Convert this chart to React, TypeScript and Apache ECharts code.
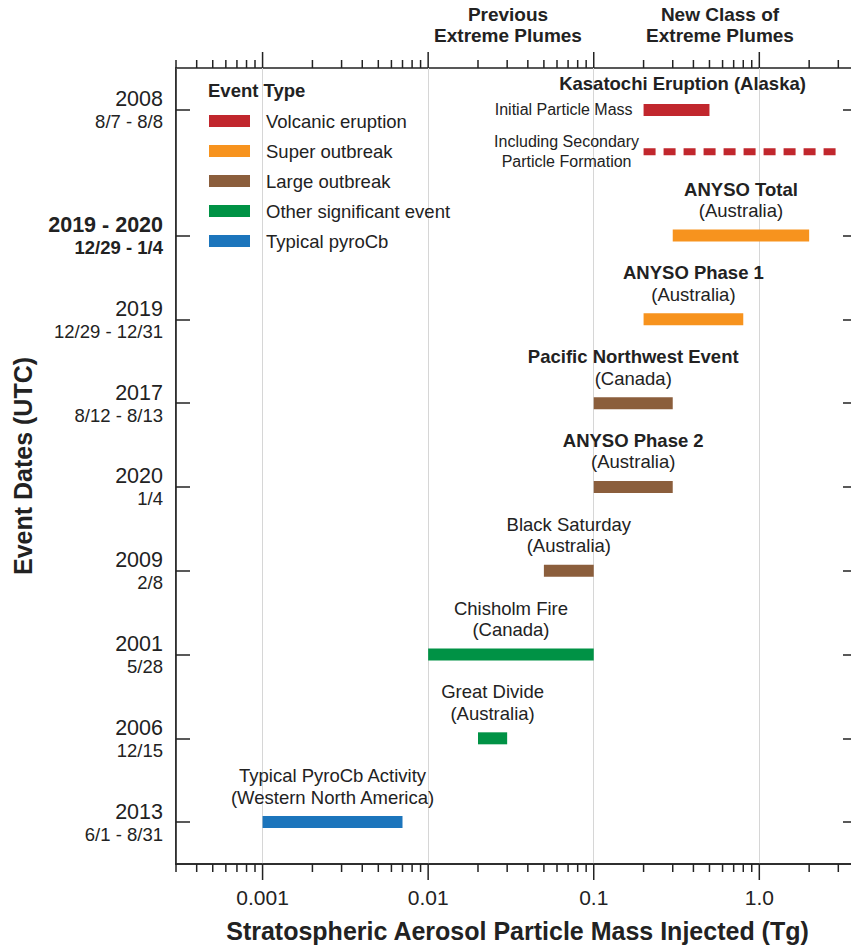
import React, { useEffect, useRef } from 'react';
import * as echarts from 'echarts';

const FONT = '"Liberation Sans", Arial, Helvetica, sans-serif';
const INK = '#222';

// Event types (legend) and their colours
const EVENT_TYPES = ['Volcanic eruption', 'Super outbreak', 'Large outbreak', 'Other significant event', 'Typical pyroCb'];
const TYPE_COLORS = ['#c1272d', '#f7931e', '#8b5e3c', '#009245', '#1c75bc'];

// Events, top to bottom
const EVENT_NAMES = ['Kasatochi Eruption (Alaska)', 'ANYSO Total', 'ANYSO Phase 1', 'Pacific Northwest Event', 'ANYSO Phase 2', 'Black Saturday', 'Chisholm Fire', 'Great Divide', 'Typical PyroCb Activity'];
const EVENT_PLACES = ['', '(Australia)', '(Australia)', '(Canada)', '(Australia)', '(Australia)', '(Canada)', '(Australia)', '(Western North America)'];
const EVENT_YEARS = ['2008', '2019 - 2020', '2019', '2017', '2020', '2009', '2001', '2006', '2013'];
const EVENT_DATES = ['8/7 - 8/8', '12/29 - 1/4', '12/29 - 12/31', '8/12 - 8/13', '1/4', '2/8', '5/28', '12/15', '6/1 - 8/31'];
const EVENT_TYPE_OF = [0, 1, 1, 2, 2, 2, 3, 3, 4];
const EVENT_LOW = [0.2, 0.3, 0.2, 0.1, 0.1, 0.05, 0.01, 0.02, 0.001];
const EVENT_HIGH = [0.5, 2.0, 0.8, 0.3, 0.3, 0.1, 0.1, 0.03, 0.007];
const EVENT_ROW = [18, 15, 13, 11, 9, 7, 5, 3, 1];
const NAME_BOLD = [true, true, true, true, true, false, false, false, false];
const DATE_BOLD = [false, true, false, false, false, false, false, false, false];

// Kasatochi including secondary particle formation (dashed)
const KASATOCHI_SECONDARY = [0.2, 3.0];
const KASATOCHI_SECONDARY_ROW = 17;
const KASATOCHI_INITIAL_LABEL = 'Initial Particle Mass';
const KASATOCHI_SECONDARY_LABEL = 'Including Secondary\nParticle Formation';

// Axes
const N_ROWS = 20;
const X_MIN = 0.0003;
const X_MAX = 4;
const X_TICK_VALUES = [0.001, 0.01, 0.1, 1];
const X_TICK_LABELS = ['0.001', '0.01', '0.1', '1.0'];
const X_TITLE = 'Stratospheric Aerosol Particle Mass Injected (Tg)';
const Y_TITLE = 'Event Dates (UTC)';
const HEADERS = ['Previous\nExtreme Plumes', 'New Class of\nExtreme Plumes'];
const LEGEND_TITLE = 'Event Type';

const ROW_NAMES = Array.from({ length: N_ROWS }, (_, i) => String(i));
const rowEvent = (i: number) => EVENT_ROW.indexOf(i);

const TICKS: number[][] = [];
for (let e = -4; e <= 0; e++) {
  for (let m = 1; m <= 9; m++) {
    const v = m * Math.pow(10, e);
    if (v >= X_MIN * (1 - 1e-9) && v <= X_MAX) TICKS.push([v, 0, m === 1 ? 1 : 0]);
  }
}

function renderEvent(params: any, api: any) {
  const lo = api.value(0);
  const hi = api.value(1);
  const row = api.value(2);
  const ev = api.value(3);
  const a = api.coord([lo, row]);
  const b = api.coord([hi, row]);
  const cy = a[1];
  const color = api.visual('color');
  const kids: any[] = [];
  const txt = (text: string, x: number, y: number, size: number, bold: boolean, align: string) => ({
    type: 'text',
    x,
    y,
    silent: true,
    style: {
      text,
      fill: INK,
      fontSize: size,
      fontWeight: bold ? 'bold' : 'normal',
      fontFamily: FONT,
      align,
      verticalAlign: 'middle',
      lineHeight: 20,
    },
  });
  if (ev < 0) {
    kids.push({
      type: 'line',
      shape: { x1: a[0], y1: cy, x2: b[0], y2: cy },
      style: { stroke: color, lineWidth: 7, lineDash: [12, 8] },
    });
    kids.push(txt(KASATOCHI_SECONDARY_LABEL, a[0] - 77, cy, 16, false, 'center'));
  } else {
    kids.push({
      type: 'rect',
      shape: { x: a[0], y: cy - 6, width: b[0] - a[0], height: 12 },
      style: { fill: color },
    });
    const cx = (a[0] + b[0]) / 2;
    if (EVENT_PLACES[ev]) {
      kids.push(txt(EVENT_NAMES[ev], cx, cy - 46.5, 18.5, NAME_BOLD[ev], 'center'));
      kids.push(txt(EVENT_PLACES[ev], cx, cy - 25, 18.5, false, 'center'));
    } else {
      kids.push(txt(EVENT_NAMES[ev], cx + 6, cy - 26, 18.5, NAME_BOLD[ev], 'center'));
      kids.push(txt(KASATOCHI_INITIAL_LABEL, a[0] - 11, cy, 16, false, 'right'));
    }
  }
  return { type: 'group', children: kids };
}

function renderTicks(params: any, api: any) {
  const v = api.value(0);
  const major = api.value(2) === 1;
  const x = api.coord([v, 0])[0];
  const cs = params.coordSys;
  const len = major ? 16 : 8;
  const st = { stroke: INK, lineWidth: 1.5 };
  return {
    type: 'group',
    children: [
      { type: 'line', shape: { x1: x, y1: cs.y + cs.height, x2: x, y2: cs.y + cs.height + len }, style: st },
      { type: 'line', shape: { x1: x, y1: cs.y, x2: x, y2: cs.y - len }, style: st },
    ],
  };
}

export default function App() {
  const ref = useRef<HTMLDivElement>(null);
  useEffect(() => {
    if (!ref.current) return;
    const chart = echarts.init(ref.current, undefined, { renderer: 'svg' });

    const eventSeries = EVENT_TYPES.map((t, ti) => {
      const data: number[][] = [];
      EVENT_TYPE_OF.forEach((tt, ei) => {
        if (tt === ti) data.push([EVENT_LOW[ei], EVENT_HIGH[ei], EVENT_ROW[ei], ei]);
      });
      if (ti === 0) data.push([KASATOCHI_SECONDARY[0], KASATOCHI_SECONDARY[1], KASATOCHI_SECONDARY_ROW, -1]);
      return {
        type: 'custom',
        name: t,
        color: TYPE_COLORS[ti],
        itemStyle: { color: TYPE_COLORS[ti] },
        xAxisIndex: 0,
        yAxisIndex: 0,
        encode: { x: [0, 1], y: 2 },
        renderItem: renderEvent,
        data,
        silent: true,
        z: 5,
      };
    });

    const yLabelRich = {
      y: { fontSize: 21.5, lineHeight: 24, fontFamily: FONT, color: INK },
      d: { fontSize: 18.5, lineHeight: 21, fontFamily: FONT, color: INK },
      yb: { fontSize: 21.5, lineHeight: 24, fontFamily: FONT, color: INK, fontWeight: 'bold' },
      db: { fontSize: 18.5, lineHeight: 21, fontFamily: FONT, color: INK, fontWeight: 'bold' },
    };

    const option: any = {
      animation: false,
      backgroundColor: '#ffffff',
      grid: {
        left: 176,
        top: 68,
        width: 683,
        height: 796,
        outerBoundsMode: 'none',
        containLabel: false,
        show: true,
        borderColor: INK,
        borderWidth: 1.5,
        backgroundColor: 'transparent',
      },
      title: {
        text: LEGEND_TITLE,
        left: 208,
        top: 81,
        padding: 0,
        textStyle: { fontSize: 18.5, fontWeight: 'bold', color: INK, fontFamily: FONT },
      },
      legend: {
        data: EVENT_TYPES,
        orient: 'vertical',
        left: 209,
        top: 111,
        padding: 0,
        itemWidth: 41,
        itemHeight: 12,
        itemGap: 10,
        icon: 'rect',
        selectedMode: false,
        textStyle: { fontSize: 18.5, color: INK, fontFamily: FONT, lineHeight: 20, padding: [0, 0, 0, 11] },
      },
      xAxis: [
        {
          type: 'log',
          logBase: 10,
          min: X_MIN,
          max: X_MAX,
          position: 'bottom',
          axisLine: { show: true, lineStyle: { color: INK, width: 1.5 } },
          axisTick: { show: false },
          minorTick: { show: false },
          axisLabel: {
            margin: 23,
            fontSize: 21,
            color: INK,
            fontFamily: FONT,
            formatter: (v: number) => {
              const i = X_TICK_VALUES.findIndex((t) => Math.abs(Math.log10(v) - Math.log10(t)) < 1e-6);
              return i >= 0 ? X_TICK_LABELS[i] : '';
            },
          },
          splitLine: { show: true, lineStyle: { color: '#d6d6d6', width: 1 } },
          name: X_TITLE,
          nameLocation: 'middle',
          nameGap: 54,
          nameTextStyle: { fontSize: 25, fontWeight: 'bold', color: INK, fontFamily: FONT },
        },
      ],
      yAxis: [
        {
          type: 'category',
          data: ROW_NAMES,
          boundaryGap: false,
          position: 'left',
          axisLine: { show: true, lineStyle: { color: INK, width: 1.5 } },
          axisTick: { show: true, inside: true, length: 14, interval: (i: number) => rowEvent(i) >= 0, lineStyle: { color: INK, width: 1.5 } },
          axisLabel: {
            interval: (i: number) => rowEvent(i) >= 0,
            margin: 13,
            align: 'right',
            formatter: (v: string) => {
              const ev = rowEvent(Number(v));
              if (ev < 0) return '';
              const b = DATE_BOLD[ev];
              return `{${b ? 'yb' : 'y'}|${EVENT_YEARS[ev]}}\n{${b ? 'db' : 'd'}|${EVENT_DATES[ev]}}`;
            },
            rich: yLabelRich,
          },
          splitLine: { show: false },
          name: Y_TITLE,
          nameLocation: 'middle',
          nameRotate: 90,
          nameGap: 141,
          nameTextStyle: { fontSize: 25, fontWeight: 'bold', color: INK, fontFamily: FONT },
        },
        {
          type: 'category',
          data: ROW_NAMES,
          boundaryGap: false,
          position: 'right',
          axisLine: { show: true, lineStyle: { color: INK, width: 1.5 } },
          axisTick: { show: true, inside: true, length: 16, interval: (i: number) => rowEvent(i) >= 0, lineStyle: { color: INK, width: 1.5 } },
          axisLabel: { show: false },
          splitLine: { show: false },
        },
      ],
      graphic: [
        {
          type: 'text',
          x: 508,
          y: 4,
          style: { text: HEADERS[0], fill: INK, fontSize: 19, fontWeight: 'bold', fontFamily: FONT, align: 'center', verticalAlign: 'top', lineHeight: 21 },
        },
        {
          type: 'text',
          x: 720,
          y: 4,
          style: { text: HEADERS[1], fill: INK, fontSize: 19, fontWeight: 'bold', fontFamily: FONT, align: 'center', verticalAlign: 'top', lineHeight: 21 },
        },
      ],
      series: [
        ...eventSeries,
        {
          type: 'custom',
          name: 'ticks',
          xAxisIndex: 0,
          yAxisIndex: 0,
          encode: { x: 0, y: 1 },
          renderItem: renderTicks,
          data: TICKS,
          silent: true,
          clip: false,
          z: 3,
        },
      ],
    };
    chart.setOption(option);
    return () => chart.dispose();
  }, []);
  return <div ref={ref} style={{ position: 'absolute', left: 0, top: 0, width: 851, height: 947 }} />;
}
